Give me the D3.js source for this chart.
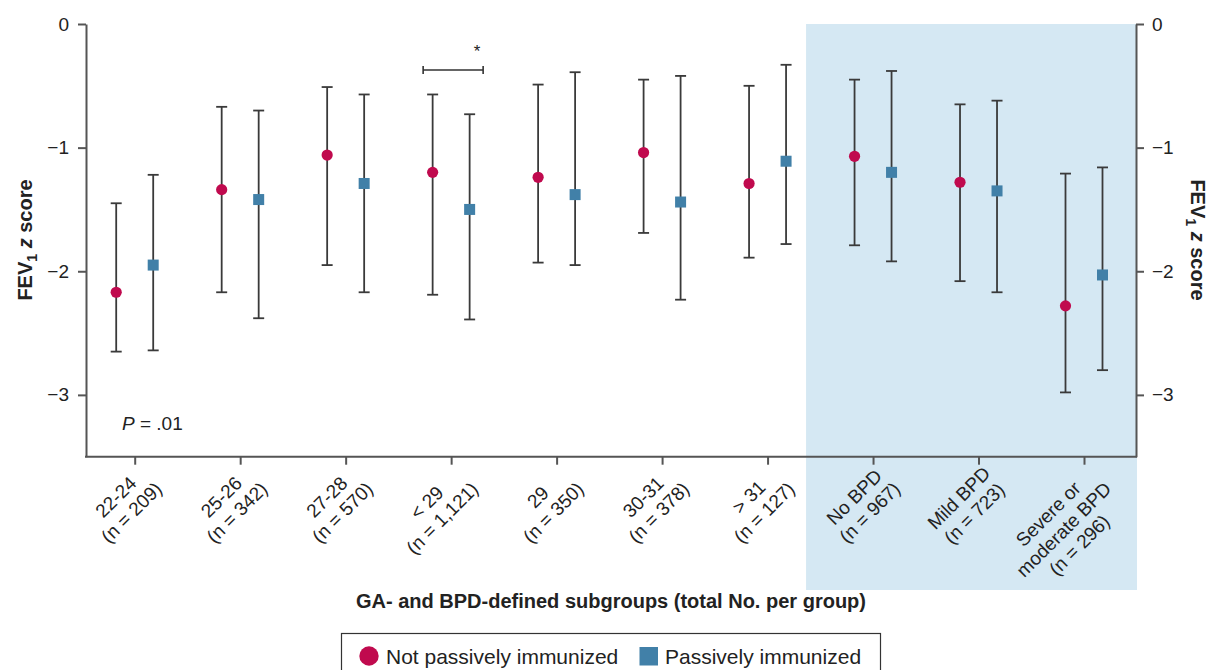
<!DOCTYPE html>
<meta charset="utf-8">
<head>
    <title>FEV1 z score by subgroup</title>
    <style>
        body { margin: 0; background: #fff; }
        text { font-family: "Liberation Sans", Arial, Helvetica, sans-serif; fill: #222; }
    </style>
</head>

<script src="https://d3js.org/d3.v7.min.js"></script>

<div id="dataVis"></div>

<script>

    // subgroups, one label line per entry
    var categories = ["22-24", "25-26", "27-28", "<29", "29", "30-31", ">31", "NoBPD", "MildBPD", "SevBPD"];
    var tickLabels = [
        ["22-24", "(n = 209)"],
        ["25-26", "(n = 342)"],
        ["27-28", "(n = 570)"],
        ["< 29", "(n = 1,121)"],
        ["29", "(n = 350)"],
        ["30-31", "(n = 378)"],
        ["> 31", "(n = 127)"],
        ["No BPD", "(n = 967)"],
        ["Mild BPD", "(n = 723)"],
        ["Severe or", "moderate BPD", "(n = 296)"]
    ];

    // not passively immunized: mean and CI
    var notMean = [-2.17, -1.34, -1.06, -1.20, -1.24, -1.04, -1.29, -1.07, -1.28, -2.28];
    var notLow  = [-2.65, -2.17, -1.95, -2.19, -1.93, -1.69, -1.89, -1.79, -2.08, -2.98];
    var notHigh = [-1.45, -0.67, -0.51, -0.57, -0.49, -0.45, -0.50, -0.45, -0.65, -1.21];

    // passively immunized: mean and CI
    var pasMean = [-1.95, -1.42, -1.29, -1.50, -1.38, -1.44, -1.11, -1.20, -1.35, -2.03];
    var pasLow  = [-2.64, -2.38, -2.17, -2.39, -1.95, -2.23, -1.78, -1.92, -2.17, -2.80];
    var pasHigh = [-1.22, -0.70, -0.57, -0.73, -0.39, -0.42, -0.33, -0.38, -0.62, -1.16];

    var yTicks = [0, -1, -2, -3];

    var width = 1209, height = 670;
    var pLeft = 86, pRight = 1136, pTop = 24, pBottom = 456.7;
    var red = "#c00a4e", blue = "#4180a8", shade = "#d5e8f3", axisCol = "#555";

    var svg = d3.select("#dataVis")
        .append("svg")
        .attr("width", width)
        .attr("height", height);

    var x = d3.scalePoint()
        .domain(categories)
        .range([134.7, 1084]);

    var y = d3.scaleLinear()
        .domain([-3.5, 0])
        .range([pBottom, pTop]);

    var step = x.step();
    var off = 18.5;

    // shaded BPD panel
    var shadeX = x("NoBPD") - step * 0.635;
    svg.append("rect")
        .attr("x", shadeX)
        .attr("y", pTop)
        .attr("width", pRight - shadeX + 1)
        .attr("height", 590 - pTop)
        .attr("fill", shade);

    // left / right axes
    svg.append("g")
        .attr("transform", "translate(" + pLeft + ",0)")
        .call(d3.axisLeft(y).tickValues(yTicks).tickSize(8).tickSizeOuter(0).tickPadding(9).tickFormat(d3.format("d")));

    svg.append("g")
        .attr("transform", "translate(" + pRight + ",0)")
        .call(d3.axisRight(y).tickValues(yTicks).tickSize(8).tickSizeOuter(0).tickPadding(8).tickFormat(d3.format("d")));

    // bottom axis: ticks from the scale, spine across the full plot
    var xAxis = svg.append("g")
        .attr("transform", "translate(0," + pBottom + ")")
        .call(d3.axisBottom(x).tickSize(8).tickSizeOuter(0).tickFormat(""));
    xAxis.select(".domain").remove();
    svg.append("line")
        .attr("x1", pLeft - 1).attr("x2", pRight + 1)
        .attr("y1", pBottom).attr("y2", pBottom)
        .attr("stroke", axisCol).attr("stroke-width", 2);

    svg.selectAll(".domain, .tick line")
        .attr("stroke", axisCol)
        .attr("stroke-width", 2);
    svg.selectAll(".tick text")
        .style("font-size", "19px")
        .style("fill", "#222");

    // rotated, centred multi-line category labels
    var lab = svg.append("g").selectAll("g")
        .data(categories)
        .enter()
        .append("g")
        .attr("transform", function (d) { return "translate(" + (x(d) + 3) + "," + (pBottom + 8) + ") rotate(-45)"; });

    lab.each(function (d, i) {
        var g = d3.select(this);
        var texts = tickLabels[i].map(function (s, j) {
            return g.append("text")
                .attr("y", 14 + j * 22)
                .attr("text-anchor", "middle")
                .style("font-size", "19px")
                .text(s);
        });
        var w = d3.max(texts, function (t) { return t.node().getComputedTextLength(); });
        texts.forEach(function (t) { t.attr("x", -w / 2); });
    });

    // error bars
    function drawSeries(mean, low, high, dx) {
        var g = svg.append("g");
        var grp = g.selectAll("g")
            .data(categories)
            .enter()
            .append("g");
        grp.append("line")
            .attr("x1", function (d) { return x(d) + dx; })
            .attr("x2", function (d) { return x(d) + dx; })
            .attr("y1", function (d, i) { return y(low[i]); })
            .attr("y2", function (d, i) { return y(high[i]); });
        grp.append("line")
            .attr("x1", function (d) { return x(d) + dx - 5.5; })
            .attr("x2", function (d) { return x(d) + dx + 5.5; })
            .attr("y1", function (d, i) { return y(low[i]); })
            .attr("y2", function (d, i) { return y(low[i]); });
        grp.append("line")
            .attr("x1", function (d) { return x(d) + dx - 5.5; })
            .attr("x2", function (d) { return x(d) + dx + 5.5; })
            .attr("y1", function (d, i) { return y(high[i]); })
            .attr("y2", function (d, i) { return y(high[i]); });
        grp.selectAll("line")
            .attr("stroke", "#3a3a3a")
            .attr("stroke-width", 1.8);
        return grp;
    }

    drawSeries(notMean, notLow, notHigh, -off)
        .append("circle")
        .attr("cx", function (d) { return x(d) - off; })
        .attr("cy", function (d, i) { return y(notMean[i]); })
        .attr("r", 5.6)
        .attr("fill", red);

    drawSeries(pasMean, pasLow, pasHigh, off)
        .append("rect")
        .attr("x", function (d) { return x(d) + off - 5.5; })
        .attr("y", function (d, i) { return y(pasMean[i]) - 5.5; })
        .attr("width", 11)
        .attr("height", 11)
        .attr("fill", blue);

    // significance bracket on < 29
    var bx0 = x("<29") - 28, bx1 = x("<29") + 32, by = 70;
    svg.append("path")
        .attr("d", "M" + bx0 + "," + (by - 4) + "V" + (by + 4) + "M" + bx0 + "," + by + "H" + bx1 + "M" + bx1 + "," + (by - 4) + "V" + (by + 4))
        .attr("stroke", "#333")
        .attr("stroke-width", 1.6)
        .attr("fill", "none");
    svg.append("text")
        .attr("x", bx1 - 6)
        .attr("y", 57)
        .attr("text-anchor", "middle")
        .style("font-size", "17px")
        .text("*");

    // P value
    var pt = svg.append("text")
        .attr("x", 122)
        .attr("y", 430)
        .style("font-size", "19px");
    pt.append("tspan").style("font-style", "italic").text("P");
    pt.append("tspan").text(" = .01");

    // y titles
    function yTitle(tx, rot) {
        var t = svg.append("text")
            .attr("transform", "translate(" + tx + ",240) rotate(" + rot + ")")
            .attr("text-anchor", "middle")
            .style("font-size", "20px")
            .style("font-weight", "bold");
        t.append("tspan").text("FEV");
        t.append("tspan").attr("dy", 5).style("font-size", "14px").text("1");
        t.append("tspan").attr("dy", -5).text(" ");
        t.append("tspan").style("font-style", "italic").text("z");
        t.append("tspan").text(" score");
    }
    yTitle(32, -90);
    yTitle(1191, 90);

    // x title
    svg.append("text")
        .attr("x", 611)
        .attr("y", 608)
        .attr("text-anchor", "middle")
        .style("font-size", "20px")
        .style("font-weight", "bold")
        .text("GA- and BPD-defined subgroups (total No. per group)");

    // legend
    var leg = svg.append("g");
    leg.append("rect")
        .attr("x", 341.5).attr("y", 633.5)
        .attr("width", 539).attr("height", 60)
        .attr("fill", "#fff")
        .attr("stroke", "#333")
        .attr("stroke-width", 1.2);
    leg.append("circle")
        .attr("cx", 369).attr("cy", 656).attr("r", 9.7)
        .attr("fill", red);
    leg.append("text")
        .attr("x", 386).attr("y", 664)
        .style("font-size", "21px")
        .text("Not passively immunized");
    leg.append("rect")
        .attr("x", 639.5).attr("y", 647)
        .attr("width", 18.5).attr("height", 18.5)
        .attr("fill", blue);
    leg.append("text")
        .attr("x", 665).attr("y", 664)
        .style("font-size", "21px")
        .text("Passively immunized");

</script>
